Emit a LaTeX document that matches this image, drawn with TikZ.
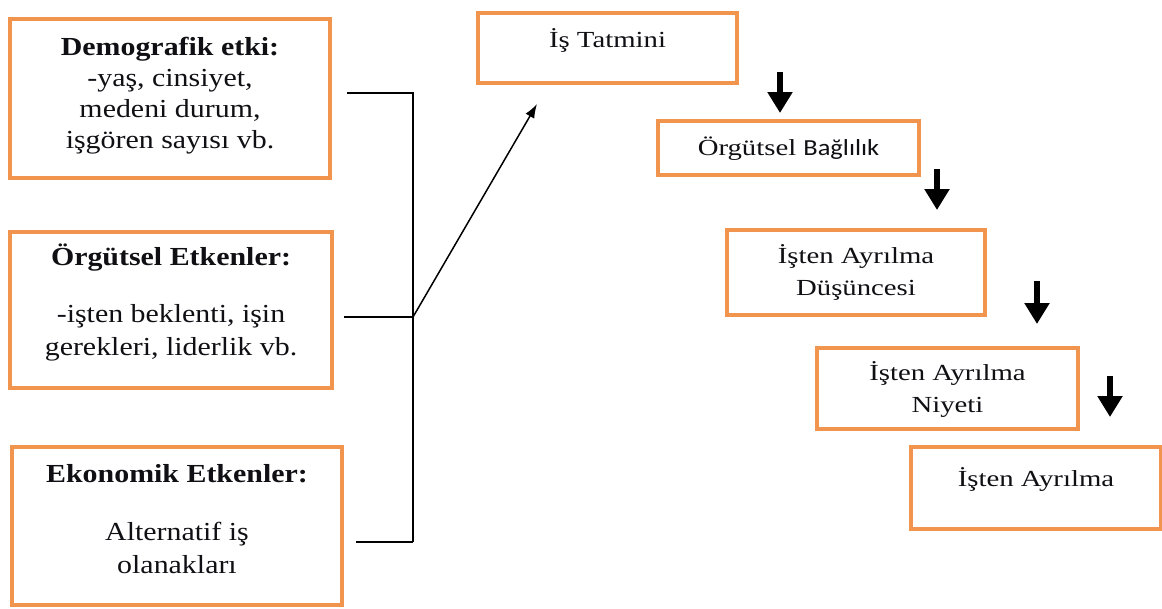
\documentclass[tikz,border=0pt]{standalone}
\usepackage{fontspec}
\setmainfont{Liberation Serif}
\newfontfamily\boxleftfont{Liberation Serif}[FakeStretch=1.15]
\newfontfamily\boxrightfont{Liberation Serif}[FakeStretch=1.25]
\newfontfamily\boxsansfont{Carlito}[FakeStretch=1.15]
\usetikzlibrary{arrows.meta}
\definecolor{boxorange}{RGB}{240,148,78}
\definecolor{inkdark}{RGB}{15,15,20}
\begin{document}
\begin{tikzpicture}[x=1pt,y=-1pt,
  box/.style={draw=boxorange,line width=4pt,inner sep=0pt,anchor=north west},
  ltxt/.style={inner sep=0pt,anchor=base,text=inkdark,font=\boxleftfont\fontsize{26}{30}\selectfont},
  ltitle/.style={ltxt,font=\boxleftfont\bfseries\fontsize{26}{30}\selectfont},
  rtxt/.style={inner sep=0pt,anchor=base,text=inkdark,font=\boxrightfont\fontsize{23}{26}\selectfont},
  conn/.style={line width=1.5pt,draw=black},
  bigarrow/.style={line width=5.5pt,draw=black,-{Triangle[length=21pt,width=24pt]}}]
\useasboundingbox[fill=white] (0,0) rectangle (1162,608);

% left boxes
\node[box,minimum width=320pt,minimum height=159pt] (b1) at (8,17) {};
\node[ltitle] (b1a) at ([yshift=-38pt]b1.north) {Demografik etki:};
\node[ltxt] (b1b) at ([yshift=-69pt]b1.north) {-yaş, cinsiyet,};
\node[ltxt] (b1c) at ([yshift=-100pt]b1.north) {medeni durum,};
\node[ltxt] (b1d) at ([yshift=-131pt]b1.north) {işgören sayısı vb.};

\node[box,minimum width=322pt,minimum height=156pt] (b2) at (8,230) {};
\node[ltitle] (b2a) at ([yshift=-35pt]b2.north) {Örgütsel Etkenler:};
\node[ltxt] (b2b) at ([yshift=-92pt]b2.north) {-işten beklenti, işin};
\node[ltxt] (b2c) at ([yshift=-125pt]b2.north) {gerekleri, liderlik vb.};

\node[box,minimum width=330pt,minimum height=158pt] (b3) at (10,445) {};
\node[ltitle] (b3a) at ([yshift=-37pt]b3.north) {Ekonomik Etkenler:};
\node[ltxt] (b3b) at ([yshift=-95pt]b3.north) {Alternatif iş};
\node[ltxt] (b3c) at ([yshift=-128pt]b3.north) {olanakları};

% right boxes
\node[box,minimum width=259pt,minimum height=70pt] (t1) at (476,11) {};
\node[rtxt] (t1a) at ([yshift=-36pt]t1.north) {İş Tatmini};

\node[box,minimum width=261pt,minimum height=54pt] (t2) at (656,119) {};
\node[rtxt] (t2a) at ([yshift=-36pt]t2.north) {Örgütsel {\boxsansfont Bağlılık}};

\node[box,minimum width=258pt,minimum height=85pt] (t3) at (725,228) {};
\node[rtxt] (t3a) at ([yshift=-35pt]t3.north) {İşten Ayrılma};
\node[rtxt] (t3b) at ([yshift=-67pt]t3.north) {Düşüncesi};

\node[box,minimum width=261pt,minimum height=81pt] (t4) at (815,346) {};
\node[rtxt] (t4a) at ([yshift=-34pt]t4.north) {İşten Ayrılma};
\node[rtxt] (t4b) at ([yshift=-66pt]t4.north) {Niyeti};

\node[box,minimum width=250pt,minimum height=82pt] (t5) at (909,445) {};
\node[rtxt] (t5a) at ([yshift=-41pt]t5.north) {İşten Ayrılma};

% bracket connector
\coordinate (j1) at (413,93);
\coordinate (j2) at (413,317);
\coordinate (j3) at (413,542);
\draw[conn] (b1.east |- j1) ++(15,0) -- (j1) -- (j3);
\draw[conn] (b2.east |- j2) ++(10,0) -- (j2);
\draw[conn] (b3.east |- j3) ++(12,0) -- (j3);
\draw[conn,-{Latex[length=14pt,width=10pt]}] (j2) -- ([xshift=61pt,yshift=-19pt]t1.south west);

% step arrows
\draw[bigarrow] ([xshift=41pt,yshift=13pt]t1.south east) -- ++(0,41);
\draw[bigarrow] ([xshift=16pt,yshift=8pt]t2.south east) -- ++(0,41);
\draw[bigarrow] ([xshift=50pt,yshift=36pt]t3.south east) -- ++(0,43);
\draw[bigarrow] ([xshift=30pt,yshift=55pt]t4.south east) -- ++(0,41);
\end{tikzpicture}
\end{document}
